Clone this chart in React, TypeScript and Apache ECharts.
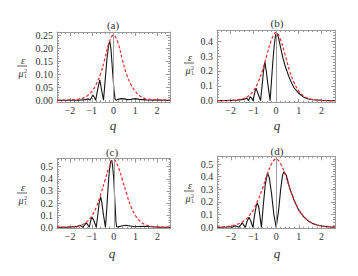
import { useEffect, useRef } from 'react';
import * as echarts from 'echarts';

// ---------- data ----------
const xTicks = [-2, -1, 0, 1, 2];
const yTicksA = [0, 0.05, 0.1, 0.15, 0.2, 0.25];
const yTicksB = [0, 0.1, 0.2, 0.3, 0.4];
const yTicksC = [0, 0.1, 0.2, 0.3, 0.4, 0.5];
const yTicksD = [0, 0.1, 0.2, 0.3, 0.4, 0.5];
const panelTitles = ['(a)', '(b)', '(c)', '(d)'];

const qGrid = [-2.6, -2.4, -2.2, -2.0, -1.8, -1.6, -1.4, -1.2, -1.0, -0.8, -0.6, -0.4, -0.2, 0,
  0.2, 0.4, 0.6, 0.8, 1.0, 1.2, 1.4, 1.6, 1.8, 2.0, 2.2, 2.4, 2.6];

const redA = [0.0001, 0.0003, 0.0005, 0.001, 0.002, 0.004, 0.008, 0.017, 0.034, 0.06, 0.1, 0.158, 0.222, 0.25,
  0.222, 0.158, 0.1, 0.06, 0.034, 0.017, 0.008, 0.004, 0.002, 0.001, 0.0005, 0.0003, 0.0001];
const redB = [0.0002, 0.0005, 0.001, 0.002, 0.004, 0.008, 0.016, 0.033, 0.065, 0.12, 0.2, 0.31, 0.41, 0.46,
  0.41, 0.31, 0.2, 0.12, 0.065, 0.033, 0.016, 0.008, 0.004, 0.002, 0.001, 0.0005, 0.0002];
const redC = [0.0004, 0.0008, 0.0015, 0.003, 0.006, 0.012, 0.025, 0.05, 0.095, 0.165, 0.27, 0.39, 0.5, 0.56,
  0.5, 0.39, 0.27, 0.165, 0.095, 0.05, 0.025, 0.012, 0.006, 0.003, 0.0015, 0.0008, 0.0004];
const redD = [0.0016, 0.0032, 0.006, 0.011, 0.019, 0.032, 0.054, 0.089, 0.14, 0.216, 0.308, 0.416, 0.502, 0.54,
  0.502, 0.416, 0.308, 0.216, 0.14, 0.089, 0.054, 0.032, 0.019, 0.011, 0.006, 0.0032, 0.0016];

const blackA: [number, number][] = [
  [-2.6, 0], [-1.6, 0], [-1.3, 0.002], [-1.15, 0.005], [-1.08, 0], [-1.0, 0.012], [-0.95, 0.02], [-0.88, 0.01],
  [-0.82, 0], [-0.72, 0.045], [-0.63, 0.078], [-0.55, 0.04], [-0.46, 0], [-0.38, 0.08], [-0.3, 0.16],
  [-0.22, 0.215], [-0.17, 0.225], [-0.12, 0.2], [-0.05, 0.12], [0.02, 0.04], [0.07, 0.005], [0.12, 0],
  [0.2, 0.003], [0.35, 0.006], [0.5, 0.005], [0.65, 0.002], [0.8, 0.003], [1.0, 0.006], [1.2, 0.003],
  [1.5, 0.001], [2.6, 0],
];
const blackB: [number, number][] = [
  [-2.6, 0], [-2.0, 0.001], [-1.6, 0.004], [-1.4, 0.01], [-1.28, 0.016], [-1.21, 0], [-1.14, 0.027],
  [-1.07, 0.015], [-1.01, 0], [-0.95, 0.045], [-0.88, 0.084], [-0.8, 0.05], [-0.68, 0], [-0.6, 0.12],
  [-0.55, 0.2], [-0.49, 0.26], [-0.43, 0.2], [-0.35, 0.1], [-0.26, 0], [-0.2, 0.13], [-0.14, 0.26],
  [-0.08, 0.37], [-0.02, 0.44], [0.03, 0.455], [0.1, 0.43], [0.2, 0.36], [0.3, 0.29], [0.4, 0.235],
  [0.5, 0.19], [0.6, 0.15], [0.7, 0.115], [0.8, 0.085], [1.0, 0.05], [1.2, 0.025], [1.4, 0.013],
  [1.6, 0.006], [2.0, 0.002], [2.6, 0],
];
const blackC: [number, number][] = [
  [-2.6, 0], [-2.1, 0.001], [-1.9, 0.003], [-1.75, 0.006], [-1.7, 0.003], [-1.55, 0.016], [-1.41, 0],
  [-1.33, 0.02], [-1.26, 0.038], [-1.19, 0.02], [-1.12, 0], [-1.06, 0.05], [-1.0, 0.085], [-0.92, 0.06],
  [-0.8, 0], [-0.72, 0.12], [-0.66, 0.21], [-0.6, 0.25], [-0.55, 0.21], [-0.47, 0.1], [-0.38, 0],
  [-0.32, 0.15], [-0.26, 0.33], [-0.2, 0.47], [-0.14, 0.545], [-0.1, 0.553], [-0.06, 0.52], [0.0, 0.4],
  [0.05, 0.22], [0.1, 0.05], [0.13, 0.005], [0.2, 0.003], [0.35, 0.01], [0.55, 0.016], [0.75, 0.01],
  [0.95, 0.004], [1.15, 0.006], [1.4, 0.008], [1.7, 0.004], [2.1, 0.001], [2.6, 0],
];
const blackD: [number, number][] = [
  [-2.6, 0], [-2.2, 0.002], [-2.05, 0.004], [-1.95, 0], [-1.8, 0.012], [-1.65, 0], [-1.5, 0.035],
  [-1.36, 0], [-1.28, 0.05], [-1.2, 0.08], [-1.12, 0.05], [-1.03, 0], [-0.95, 0.1], [-0.88, 0.17],
  [-0.83, 0.19], [-0.77, 0.16], [-0.65, 0], [-0.57, 0.17], [-0.48, 0.34], [-0.38, 0.43], [-0.3, 0.39],
  [-0.2, 0.26], [-0.1, 0.1], [0, 0], [0.1, 0.12], [0.2, 0.3], [0.28, 0.41], [0.35, 0.44], [0.45, 0.41],
  [0.6, 0.31], [0.8, 0.21], [1.0, 0.135], [1.2, 0.086], [1.4, 0.052], [1.6, 0.031], [1.8, 0.018],
  [2.0, 0.01], [2.3, 0.005], [2.6, 0.002],
];

// ---------- layout ----------
const FONT = "'Liberation Serif', 'DejaVu Serif', serif";
const FRAME = '#9a9a9a';
const TXT = '#333333';
const RED = '#ee2b2b';
const X_RANGE = [-2.6, 2.6];

const panels = [
  { left: 57, top: 32, width: 113, height: 70, yr: [-0.007, 0.262], yMaj: yTicksA, yMinStep: 0.01, dig: 2,
    red: redA, black: blackA, tx: 113, ty: 25, fx: 22, fy: 66, qy: 125 },
  { left: 217, top: 30, width: 118, height: 72.7, yr: [-0.014, 0.476], yMaj: yTicksB, yMinStep: 0.02, dig: 1,
    red: redB, black: blackB, tx: 277, ty: 23, fx: 189, fy: 63, qy: 125 },
  { left: 57, top: 158.7, width: 113.5, height: 70, yr: [-0.012, 0.566], yMaj: yTicksC, yMinStep: 0.02, dig: 1,
    red: redC, black: blackC, tx: 112, ty: 152, fx: 22, fy: 193, qy: 253 },
  { left: 217.3, top: 156.3, width: 117.7, height: 72.4, yr: [-0.011, 0.561], yMaj: yTicksD, yMinStep: 0.02, dig: 1,
    red: redD, black: blackD, tx: 277, ty: 151, fx: 189, fy: 191, qy: 253 },
];

function minorList(min: number, max: number, step: number, majors: number[]) {
  const out: number[] = [];
  for (let k = Math.ceil(min / step - 1e-9); k * step <= max + 1e-9; k++) {
    const v = +(k * step).toFixed(6);
    if (!majors.some((m) => Math.abs(m - v) < 1e-9)) out.push(v);
  }
  return out;
}

const fmtX = (v: number) => (v < 0 ? '\u2212' + Math.abs(v) : String(v));

function txt(text: string, x: number, y: number, font: string) {
  return {
    type: 'text',
    style: { text, x, y, font, fill: TXT, align: 'center', verticalAlign: 'middle',
      textAlign: 'center', textVerticalAlign: 'middle' },
  };
}

function buildOption() {
  const grid: any[] = [];
  const xAxis: any[] = [];
  const yAxis: any[] = [];
  const series: any[] = [];
  const graphic: any[] = [];
  const xMinor = minorList(X_RANGE[0], X_RANGE[1], 0.2, xTicks);

  panels.forEach((p, i) => {
    grid.push({ left: p.left, top: p.top, width: p.width, height: p.height, containLabel: false, outerBoundsMode: 'none' });
    const yMinor = minorList(p.yr[0], p.yr[1], p.yMinStep, p.yMaj);
    const common = { gridIndex: i, type: 'value', splitLine: { show: false } };
    const lab = { fontFamily: FONT, fontSize: 10, color: TXT };
    (['bottom', 'top'] as const).forEach((pos) => {
      xAxis.push({
        ...common, position: pos, min: X_RANGE[0], max: X_RANGE[1],
        axisLine: { show: true, onZero: false, lineStyle: { color: FRAME, width: 1 } },
        axisTick: { show: true, inside: true, length: 4, customValues: xTicks, lineStyle: { color: FRAME } },
        axisLabel: pos === 'bottom'
          ? { show: true, customValues: xTicks, formatter: fmtX, margin: 3, ...lab }
          : { show: false },
      });
      xAxis.push({
        ...common, position: pos, min: X_RANGE[0], max: X_RANGE[1],
        axisLine: { show: false, onZero: false },
        axisTick: { show: true, inside: true, length: 2, customValues: xMinor, lineStyle: { color: FRAME } },
        axisLabel: { show: false },
      });
    });
    (['left', 'right'] as const).forEach((pos) => {
      yAxis.push({
        ...common, position: pos, min: p.yr[0], max: p.yr[1],
        axisLine: { show: true, onZero: false, lineStyle: { color: FRAME, width: 1 } },
        axisTick: { show: true, inside: true, length: 4, customValues: p.yMaj, lineStyle: { color: FRAME } },
        axisLabel: pos === 'left'
          ? { show: true, customValues: p.yMaj, formatter: (v: number) => v.toFixed(p.dig), margin: 4, ...lab }
          : { show: false },
      });
      yAxis.push({
        ...common, position: pos, min: p.yr[0], max: p.yr[1],
        axisLine: { show: false, onZero: false },
        axisTick: { show: true, inside: true, length: 2, customValues: yMinor, lineStyle: { color: FRAME } },
        axisLabel: { show: false },
      });
    });
    const xi = 4 * i;
    series.push({
      type: 'line', xAxisIndex: xi, yAxisIndex: xi, data: p.black, symbol: 'none', smooth: false,
      lineStyle: { color: '#151515', width: 1.1 }, z: 2,
      markLine: {
        silent: true, symbol: ['none', 'none'], label: { show: false },
        lineStyle: { color: '#a0a0a0', type: 'solid', width: 1 },
        data: [{ xAxis: 0 }],
      },
    });
    series.push({
      type: 'line', xAxisIndex: xi, yAxisIndex: xi, data: qGrid.map((q, j) => [q, p.red[j]]),
      symbol: 'none', smooth: 0.4, lineStyle: { color: RED, width: 1.2, type: [3, 2] }, z: 3,
    });
    graphic.push(txt(panelTitles[i], p.tx, p.ty, `11px ${FONT}`));
    graphic.push(txt('q', p.tx, p.qy, `italic 13px ${FONT}`));
    // y label fraction  ε / μ₁²
    graphic.push(txt('ε', p.fx + 1, p.fy - 6, `italic 10px ${FONT}`));
    graphic.push({
      type: 'line', shape: { x1: p.fx - 5, y1: p.fy, x2: p.fx + 5, y2: p.fy }, style: { stroke: TXT, lineWidth: 0.8 },
    });
    graphic.push(txt('μ', p.fx - 1, p.fy + 7, `italic 10px ${FONT}`));
    graphic.push(txt('2', p.fx + 3.5, p.fy + 4.5, `6px ${FONT}`));
    graphic.push(txt('1', p.fx + 3.5, p.fy + 9.5, `6px ${FONT}`));
  });

  return { animation: false, backgroundColor: '#ffffff', grid, xAxis, yAxis, series, graphic };
}

export default function App() {
  const ref = useRef<HTMLDivElement>(null);
  useEffect(() => {
    if (!ref.current) return;
    const chart = echarts.init(ref.current, undefined, { renderer: 'svg' });
    chart.setOption(buildOption() as any);
    return () => chart.dispose();
  }, []);
  return (
    <div
      ref={ref}
      style={{ position: 'fixed', left: 0, top: 0, width: 358, height: 276, background: '#fff' }}
    />
  );
}
